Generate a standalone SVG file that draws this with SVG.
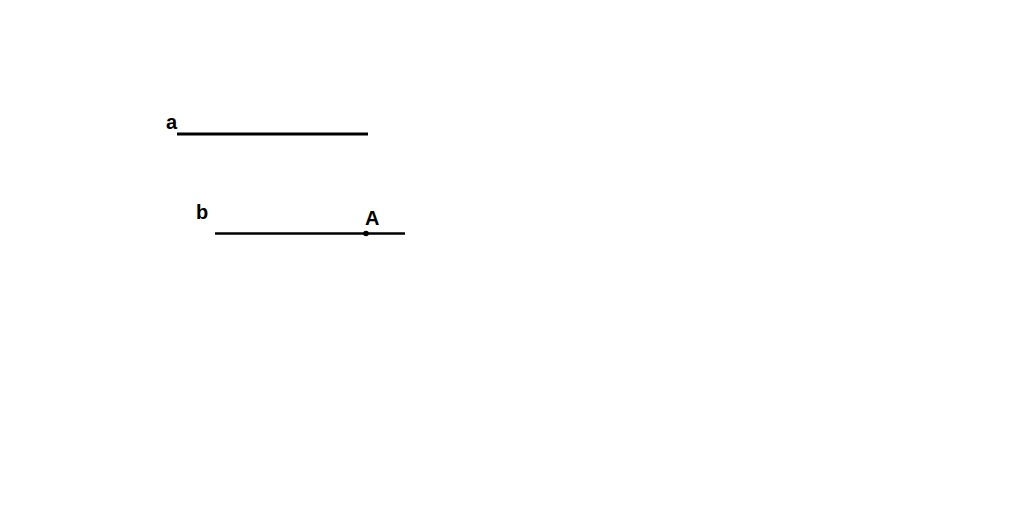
<svg xmlns="http://www.w3.org/2000/svg" width="1024" height="514" viewBox="0 0 1024 514">
<style>
.lbl{font-family:"Liberation Sans",Arial,sans-serif;font-weight:bold;font-size:20px;fill:#000}
.ln{stroke:#000;stroke-linecap:butt}
</style>
<rect width="1024" height="514" fill="#fff"/>
<g id="connectors">
<line id="line-a" class="ln" x1="177" y1="134" x2="368" y2="134" stroke-width="3"/>
<line id="line-b" class="ln" x1="215" y1="233.5" x2="405" y2="233.5" stroke-width="2.4"/>
</g>
<g id="label-a"><text class="lbl" x="166" y="129">a</text></g>
<g id="label-b"><text class="lbl" x="196" y="219">b</text></g>
<g id="point-A">
<circle cx="366" cy="233.5" r="2.8" fill="#000"/>
<text class="lbl" x="365" y="225">A</text>
</g>
</svg>
